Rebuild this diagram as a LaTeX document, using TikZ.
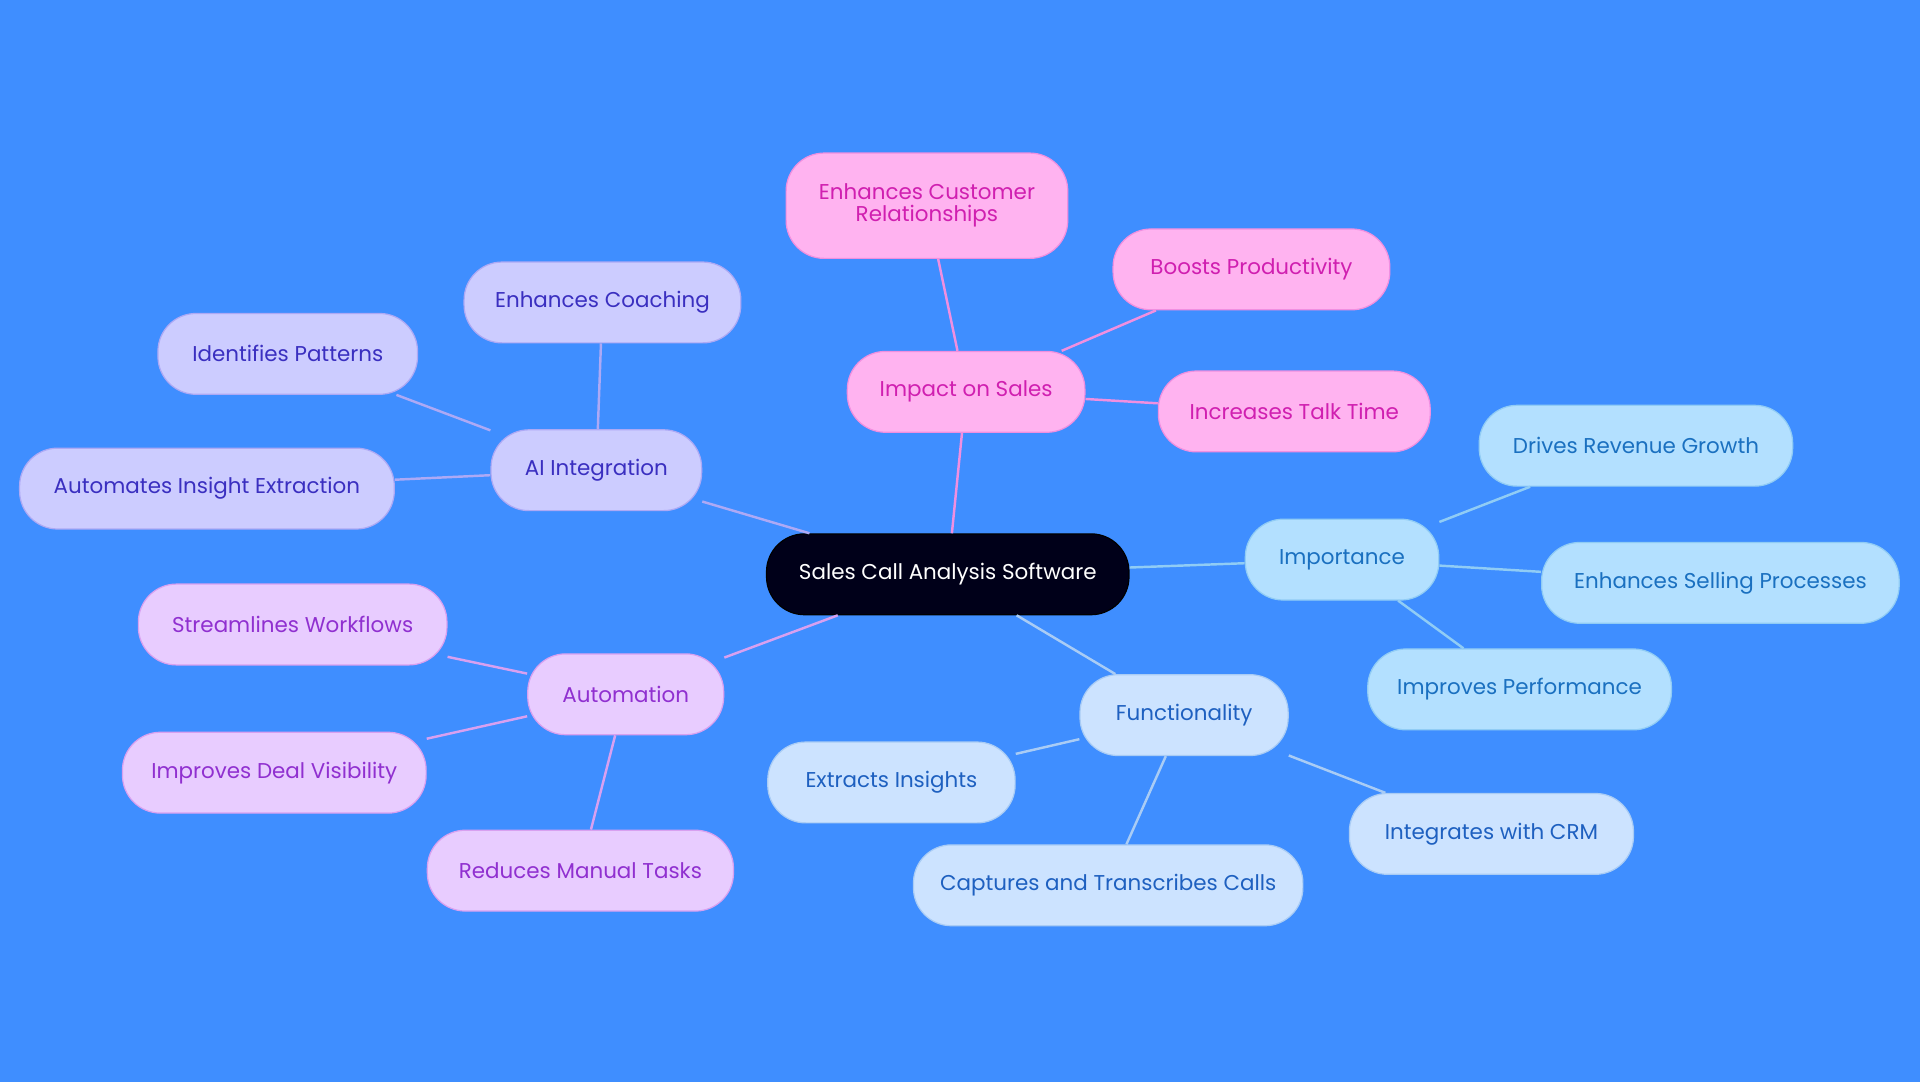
\documentclass[tikz,border=0pt]{standalone}
\usepackage{fontspec}
\setmainfont{Poppins}
\begin{document}
\begin{tikzpicture}[x=1pt,y=-1pt,
 b/.style={rounded corners=31pt,minimum height=66pt,align=center,font=\fontsize{17.5}{20}\selectfont,line width=1pt},
 ai/.style={b,fill=aiF,draw=aiD,text=aiT},
 im/.style={b,fill=imF,draw=imD,text=imT},
 po/.style={b,fill=poF,draw=poD,text=poT},
 fu/.style={b,fill=fuF,draw=fuD,text=fuT},
 au/.style={b,fill=auF,draw=auD,text=auT},
 e/.style={line width=2pt}]
\definecolor{bg}{HTML}{3F8EFF}
\definecolor{aiF}{HTML}{CCCCFF}\definecolor{aiD}{HTML}{ADA9F5}\definecolor{aiT}{HTML}{3A2FC0}
\definecolor{imF}{HTML}{FFB3F0}\definecolor{imD}{HTML}{F08FE0}\definecolor{imT}{HTML}{D01FB0}
\definecolor{poF}{HTML}{B3E0FF}\definecolor{poD}{HTML}{90CCF5}\definecolor{poT}{HTML}{1A70C0}
\definecolor{fuF}{HTML}{CCE3FF}\definecolor{fuD}{HTML}{A9CCF5}\definecolor{fuT}{HTML}{1E60C0}
\definecolor{auF}{HTML}{E8CCFF}\definecolor{auD}{HTML}{D8A0F0}\definecolor{auT}{HTML}{9030D0}
\fill[bg] (0,0) rectangle (1568,884);
\useasboundingbox (0,0) rectangle (1568,884);
\node[b,fill=black!90!blue,text=white,draw=black,minimum width=296pt] (c) at (774,469) {Sales Call Analysis Software};
\node[ai,minimum width=172pt] (ai) at (487,384) {AI Integration};
\node[ai,minimum width=226pt] (ai1) at (492,247) {Enhances Coaching};
\node[ai,minimum width=212pt] (ai2) at (235,289) {Identifies Patterns};
\node[ai,minimum width=306pt] (ai3) at (169,399) {Automates Insight Extraction};
\node[im,minimum width=194pt] (im) at (789,320) {Impact on Sales};
\node[im,minimum width=230pt,minimum height=86pt] (im1) at (757,168) {Enhances Customer\\[-2pt]Relationships};
\node[im,minimum width=226pt] (im2) at (1022,220) {Boosts Productivity};
\node[im,minimum width=222pt] (im3) at (1057,336) {Increases Talk Time};
\node[po,minimum width=158pt] (po) at (1096,457) {Importance};
\node[po,minimum width=256pt] (po1) at (1336,364) {Drives Revenue Growth};
\node[po,minimum width=292pt] (po2) at (1405,476) {Enhances Selling Processes};
\node[po,minimum width=248pt] (po3) at (1241,563) {Improves Performance};
\node[fu,minimum width=170pt] (fu) at (967,584) {Functionality};
\node[fu,minimum width=202pt] (fu1) at (728,639) {Extracts Insights};
\node[fu,minimum width=318pt] (fu2) at (905,723) {Captures and Transcribes Calls};
\node[fu,minimum width=232pt] (fu3) at (1218,681) {Integrates with CRM};
\node[au,minimum width=160pt] (au) at (511,567) {Automation};
\node[au,minimum width=252pt] (au1) at (239,510) {Streamlines Workflows};
\node[au,minimum width=248pt] (au2) at (224,631) {Improves Deal Visibility};
\node[au,minimum width=250pt] (au3) at (474,711) {Reduces Manual Tasks};
\begin{scope}[on background layer/.style={}]
\end{scope}
\begin{pgfinterruptboundingbox}\end{pgfinterruptboundingbox}
\begin{scope}[e]
\draw[aiD] (c) -- (ai); \foreach \n in {ai1,ai2,ai3}{\draw[aiD] (ai) -- (\n);}
\draw[imD] (c) -- (im); \foreach \n in {im1,im2,im3}{\draw[imD] (im) -- (\n);}
\draw[poD] (c) -- (po); \foreach \n in {po1,po2,po3}{\draw[poD] (po) -- (\n);}
\draw[fuD] (c) -- (fu); \foreach \n in {fu1,fu2,fu3}{\draw[fuD] (fu) -- (\n);}
\draw[auD] (c) -- (au); \foreach \n in {au1,au2,au3}{\draw[auD] (au) -- (\n);}
\end{scope}
\end{tikzpicture}
\end{document}
